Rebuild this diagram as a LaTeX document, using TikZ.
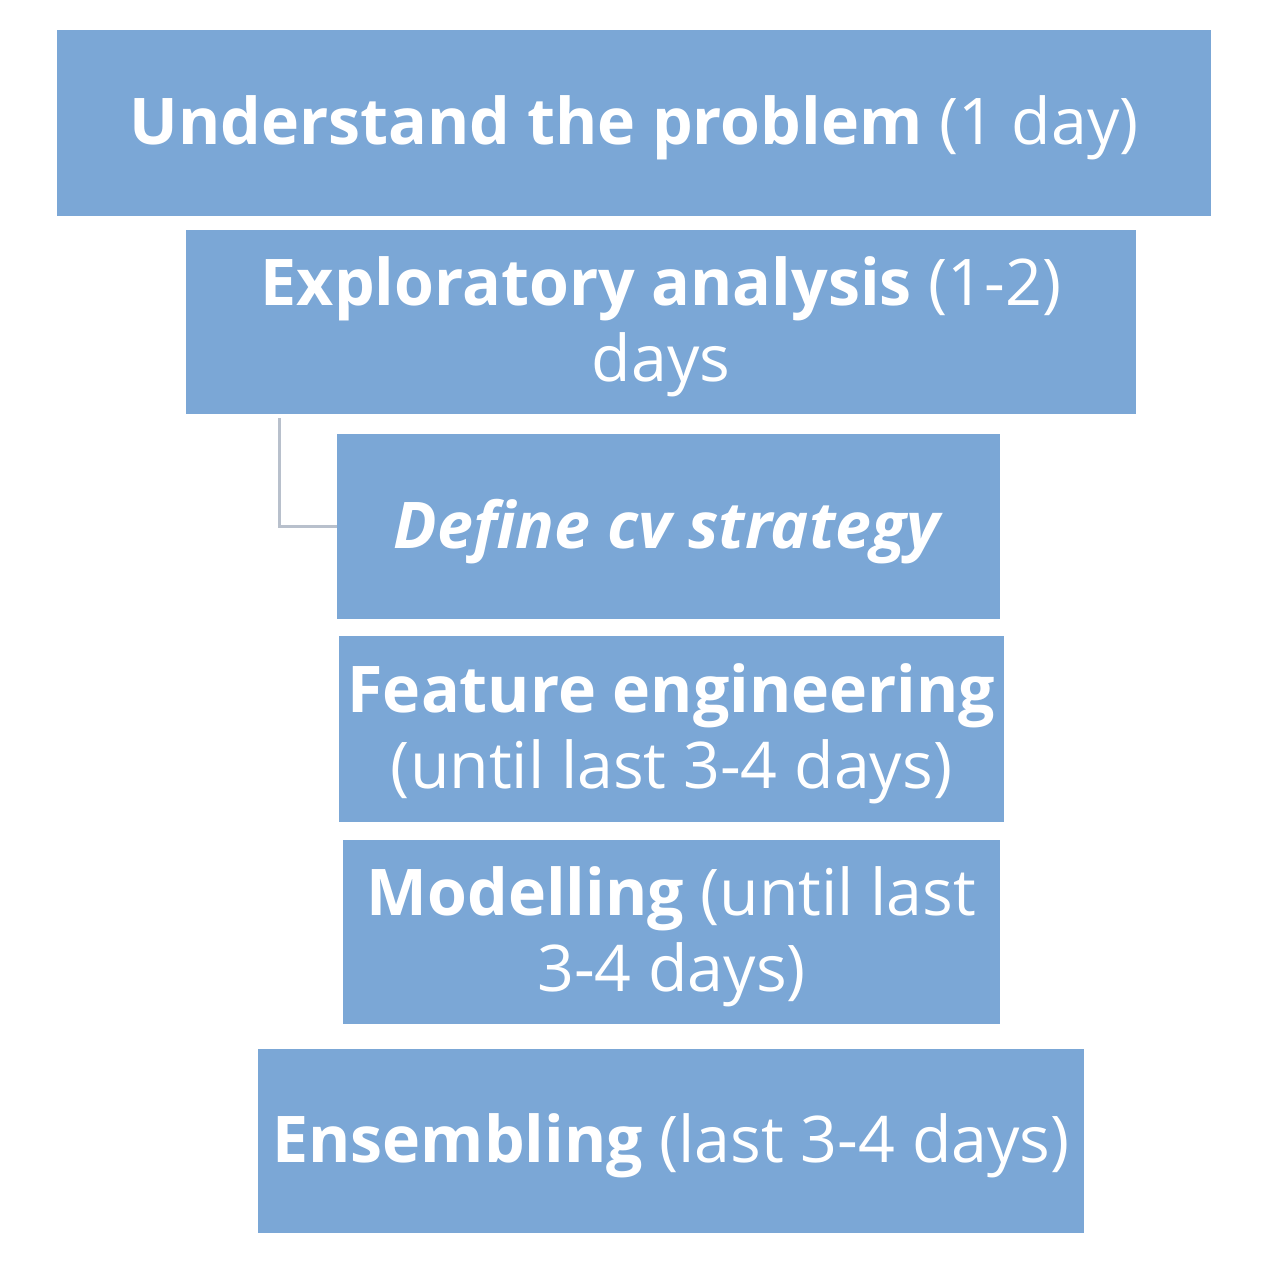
\documentclass[tikz,border=0pt]{standalone}
\usepackage{fontspec}
\setmainfont{Open Sans}
\usetikzlibrary{calc}
\definecolor{boxblue}{RGB}{123,167,214}
\definecolor{conngray}{RGB}{184,192,204}
\begin{document}
\begin{tikzpicture}[x=0.5pt,y=-0.5pt,
  stepbox/.style={fill=boxblue, draw=none, inner sep=0pt},
  steptext/.style={text=white, align=center, inner sep=0pt, yshift=-2.5pt,
    font=\fontsize{32.2}{38}\selectfont},
  conn/.style={draw=conngray, line width=1.5pt}]
\useasboundingbox (0,0) rectangle (1266,1284);
\node[stepbox, minimum width=577pt, minimum height=93pt] (b1) at (634,123) {};
\node[stepbox, minimum width=475pt, minimum height=92pt] (b2) at (661,322) {};
\node[stepbox, minimum width=331.5pt, minimum height=92.5pt] (b3) at (668.5,526.5) {};
\node[stepbox, minimum width=332.5pt, minimum height=93pt] (b4) at (671.5,729) {};
\node[stepbox, minimum width=328.5pt, minimum height=92pt] (b5) at (671.5,932) {};
\node[stepbox, minimum width=413pt, minimum height=92pt] (b6) at (671,1141) {};
\node[steptext] (t1) at (b1.center) {\textbf{Understand the problem} (1 day)};
\node[steptext] (t2) at (b2.center) {\textbf{Exploratory analysis} (1-2)\\days};
\node[steptext] (t3) at (b3.center) {\textbf{\textit{Define cv strategy}}};
\node[steptext] (t4) at (b4.center) {\textbf{Feature engineering}\\(until last 3-4 days)};
\node[steptext] (t5) at (b5.center) {\textbf{Modelling} (until last\\3-4 days)};
\node[steptext] (t6) at (b6.center) {\textbf{Ensembling} (last 3-4 days)};
\draw[conn] ($(b2.south west)+(47pt,-2pt)$) |- (b3.west);
\end{tikzpicture}
\end{document}
